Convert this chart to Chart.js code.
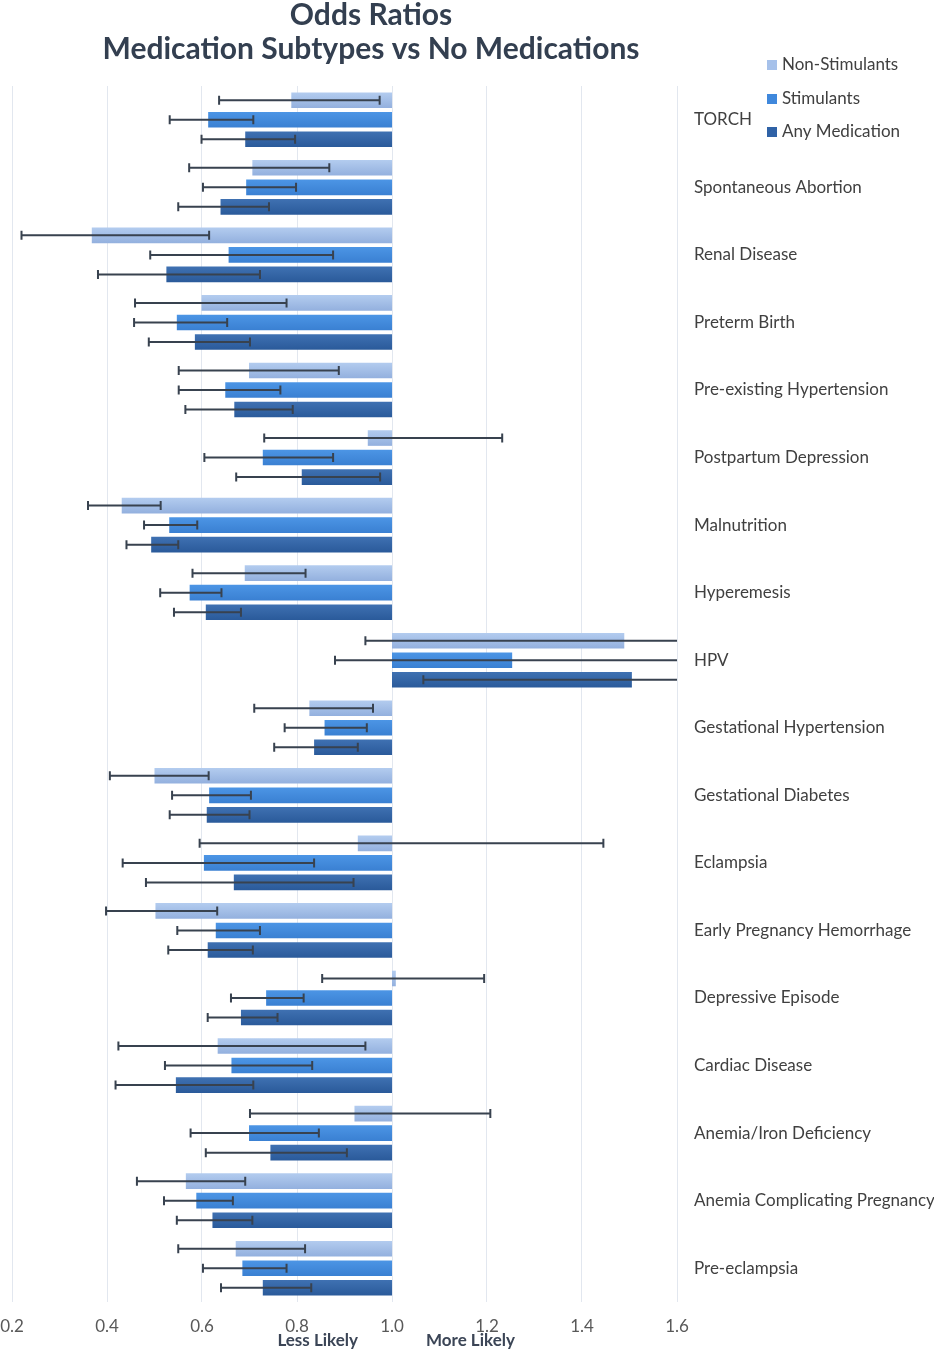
<!DOCTYPE html>
<html>
<head>
<meta charset="utf-8">
<script src="https://cdn.jsdelivr.net/npm/chart.js@4/dist/chart.umd.min.js"></script>
<style>
  html, body { margin: 0; padding: 0; background: #ffffff; }
  #wrap { position: relative; width: 934px; height: 1350px; }
</style>
</head>
<body>
<div id="wrap"><canvas id="c" width="934" height="1350"></canvas></div>
<script>
const titleLines = ['Odds Ratios', 'Medication Subtypes vs No Medications'];
const sideLabels = ['Less Likely', 'More Likely'];
const seriesNames = ['Non-Stimulants', 'Stimulants', 'Any Medication'];
const xTicks = [0.2, 0.4, 0.6, 0.8, 1.0, 1.2, 1.4, 1.6];
const referenceValue = 1.0;

const categories = ['TORCH', 'Spontaneous Abortion', 'Renal Disease', 'Preterm Birth',
  'Pre-existing Hypertension', 'Postpartum Depression', 'Malnutrition', 'Hyperemesis', 'HPV',
  'Gestational Hypertension', 'Gestational Diabetes', 'Eclampsia', 'Early Pregnancy Hemorrhage',
  'Depressive Episode', 'Cardiac Disease', 'Anemia/Iron Deficiency',
  'Anemia Complicating Pregnancy', 'Pre-eclampsia'];

const nonStim     = [0.788, 0.706, 0.368, 0.599, 0.699, 0.949, 0.431, 0.690, 1.489, 0.826, 0.500, 0.928, 0.502, 1.008, 0.633, 0.921, 0.566, 0.671];
const nonStimLow  = [0.636, 0.573, 0.220, 0.459, 0.551, 0.731, 0.360, 0.580, 0.944, 0.710, 0.406, 0.595, 0.398, 0.853, 0.424, 0.701, 0.463, 0.550];
const nonStimHigh = [0.974, 0.868, 0.615, 0.778, 0.888, 1.232, 0.513, 0.818, 2.300, 0.960, 0.614, 1.445, 0.632, 1.194, 0.944, 1.207, 0.691, 0.817];

const stim     = [0.613, 0.693, 0.656, 0.547, 0.649, 0.728, 0.531, 0.574, 1.253, 0.858, 0.615, 0.604, 0.629, 0.735, 0.662, 0.699, 0.588, 0.685];
const stimLow  = [0.532, 0.602, 0.491, 0.457, 0.551, 0.605, 0.478, 0.512, 0.880, 0.774, 0.537, 0.433, 0.548, 0.661, 0.522, 0.576, 0.520, 0.602];
const stimHigh = [0.708, 0.798, 0.876, 0.653, 0.765, 0.876, 0.590, 0.641, 1.780, 0.947, 0.703, 0.836, 0.722, 0.814, 0.832, 0.846, 0.665, 0.778];

const anyMed     = [0.691, 0.639, 0.525, 0.585, 0.668, 0.810, 0.493, 0.608, 1.505, 0.836, 0.610, 0.667, 0.612, 0.682, 0.545, 0.744, 0.622, 0.728];
const anyMedLow  = [0.599, 0.550, 0.381, 0.488, 0.565, 0.672, 0.441, 0.541, 1.066, 0.752, 0.532, 0.482, 0.529, 0.612, 0.418, 0.608, 0.547, 0.640];
const anyMedHigh = [0.796, 0.741, 0.722, 0.701, 0.791, 0.975, 0.550, 0.682, 2.120, 0.928, 0.700, 0.919, 0.707, 0.759, 0.708, 0.905, 0.706, 0.830];

const CAT_PCT = 0.867;
const BAR_PCT = 0.80;
const palette = [
  { top: '#B3CCEF', bottom: '#93B0DE', legend: '#A6C1EA' },
  { top: '#4C95E5', bottom: '#3A80D2', legend: '#3F88DC' },
  { top: '#3F71B2', bottom: '#2A5A9A', legend: '#2F62A6' }
];

function barGradient(ctx, i) {
  const p = palette[i];
  const chart = ctx.chart;
  const y = chart.scales && chart.scales.y;
  if (!y || ctx.type !== 'data' || !chart.chartArea) return p.top;
  const band = Math.abs(y.getPixelForValue(1) - y.getPixelForValue(0));
  const slot = band * CAT_PCT / 3;
  const c = y.getPixelForValue(ctx.dataIndex) - band * CAT_PCT / 2 + slot * (ctx.datasetIndex + 0.5);
  const h = slot * BAR_PCT / 2;
  const g = chart.ctx.createLinearGradient(0, c - h, 0, c + h);
  g.addColorStop(0, p.top);
  g.addColorStop(1, p.bottom);
  return g;
}

const seriesValues = [nonStim, stim, anyMed];
const seriesLow = [nonStimLow, stimLow, anyMedLow];
const seriesHigh = [nonStimHigh, stimHigh, anyMedHigh];

const datasets = seriesValues.map((vals, i) => ({
  label: seriesNames[i],
  data: vals.map(v => [referenceValue, v]),
  backgroundColor: (ctx) => barGradient(ctx, i),
  borderWidth: 0,
  categoryPercentage: CAT_PCT,
  barPercentage: BAR_PCT,
  errLow: seriesLow[i],
  errHigh: seriesHigh[i]
}));

const errorBarPlugin = {
  id: 'errorBars',
  afterDatasetsDraw(chart) {
    const ctx = chart.ctx;
    const xs = chart.scales.x;
    const area = chart.chartArea;
    ctx.save();
    ctx.beginPath();
    ctx.rect(area.left - 2, area.top, area.right - area.left + 2, area.bottom - area.top);
    ctx.clip();
    ctx.strokeStyle = '#38424F';
    ctx.lineWidth = 2;
    chart.data.datasets.forEach((ds, di) => {
      const meta = chart.getDatasetMeta(di);
      meta.data.forEach((bar, idx) => {
        const lo = ds.errLow[idx], hi = ds.errHigh[idx];
        const y = bar.y;
        const x1 = xs.getPixelForValue(lo);
        const x2 = xs.getPixelForValue(hi);
        const cap = 4.5;
        ctx.beginPath();
        ctx.moveTo(x1, y); ctx.lineTo(Math.min(x2, area.right), y);
        if (lo >= xs.min) { ctx.moveTo(x1, y - cap); ctx.lineTo(x1, y + cap); }
        if (hi <= xs.max) { ctx.moveTo(x2, y - cap); ctx.lineTo(x2, y + cap); }
        ctx.stroke();
      });
    });
    ctx.restore();
  }
};

const decorPlugin = {
  id: 'decor',
  afterDraw(chart) {
    const ctx = chart.ctx;
    const xs = chart.scales.x;
    ctx.save();
    // Title
    ctx.fillStyle = '#333F50';
    ctx.font = 'bold 30px Lato';
    ctx.textAlign = 'center';
    ctx.textBaseline = 'alphabetic';
    ctx.fillText(titleLines[0], 371, 25);
    ctx.fillText(titleLines[1], 371, 59);
    // Legend
    ctx.font = '17px Lato';
    ctx.textAlign = 'left';
    ctx.textBaseline = 'middle';
    const legendY = [65, 99, 132];
    seriesNames.forEach((name, i) => {
      ctx.fillStyle = palette[i].legend;
      ctx.fillRect(767, legendY[i] - 5, 10, 10);
      ctx.fillStyle = '#404040';
      ctx.fillText(name, 782, legendY[i]);
    });
    // Less / More likely
    const x1 = xs.getPixelForValue(referenceValue);
    ctx.font = 'bold 17px Lato';
    ctx.fillStyle = '#3B4556';
    ctx.textAlign = 'right';
    ctx.fillText(sideLabels[0], x1 - 34, 1341);
    ctx.textAlign = 'left';
    ctx.fillText(sideLabels[1], x1 + 34, 1341);
    ctx.restore();
  }
};

Chart.defaults.font.family = 'Lato';

new Chart(document.getElementById('c'), {
  type: 'bar',
  data: { labels: categories, datasets },
  options: {
    indexAxis: 'y',
    responsive: false,
    animation: false,
    devicePixelRatio: 1,
    layout: { padding: { top: 86, bottom: 0, left: 0, right: 0 } },
    plugins: {
      legend: { display: false },
      title: { display: false },
      tooltip: { enabled: false }
    },
    scales: {
      x: {
        type: 'linear',
        min: 0.2,
        max: 1.6,
        afterBuildTicks: (scale) => { scale.ticks = xTicks.map(v => ({ value: v })); },
        afterFit: (scale) => { scale.paddingLeft = 12; scale.paddingRight = 0; scale.height = 48; },
        ticks: {
          callback: (v) => Number(v).toFixed(1),
          color: '#595959',
          font: { size: 17 },
          padding: 14
        },
        grid: { color: '#E2E7EF', lineWidth: 1, drawTicks: false },
        border: { display: false }
      },
      y: {
        position: 'right',
        afterFit: (scale) => { scale.width = 257; scale.paddingTop = 0; scale.paddingBottom = 0; },
        ticks: {
          color: '#404040',
          font: { size: 17 },
          padding: 9
        },
        grid: { display: false },
        border: { display: false }
      }
    }
  },
  plugins: [errorBarPlugin, decorPlugin]
});
</script>
</body>
</html>
